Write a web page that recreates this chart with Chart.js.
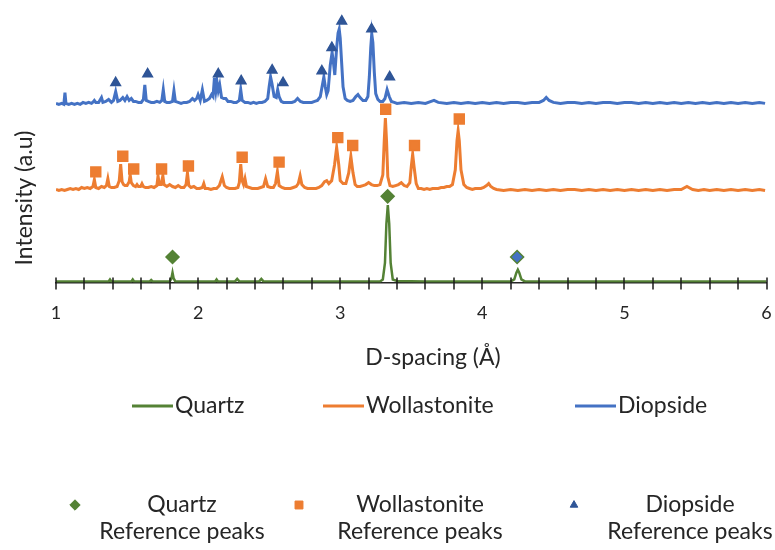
<!DOCTYPE html>
<html>
<head>
<meta charset="utf-8">
<script src="https://cdn.jsdelivr.net/npm/chart.js@4.4.1/dist/chart.umd.min.js"></script>
<style>
  html, body { margin: 0; padding: 0; background: #fff; }
  #wrap { width: 775px; height: 550px; }
</style>
</head>
<body>
<div id="wrap"><canvas id="xrd" width="775" height="550"></canvas></div>
<script>
// XRD patterns, stacked: [d-spacing (Å), intensity (a.u.)]
const quartzScan = [
  [1.00,1],[1.10,1],[1.20,1],[1.37,1],[1.38,3],[1.39,1],[1.53,1],[1.54,3],[1.55,1],[1.66,1],[1.67,2.5],[1.68,1],
  [1.80,1],[1.812,4],[1.82,10],[1.828,4],[1.84,1],[1.98,1],[2.12,1],[2.13,3],[2.14,1],[2.26,1],[2.275,3.5],
  [2.29,1],[2.43,1],[2.445,3.5],[2.46,1],[2.60,1],[3.00,1],[3.28,1],[3.30,3],[3.315,20],[3.325,60],[3.335,79],
  [3.345,60],[3.355,20],[3.37,3],[3.40,1.5],[3.60,1],[4.20,1],[4.225,3],[4.24,10],[4.25,13],[4.26,10],[4.275,3],
  [4.30,1],[5.00,1],[6.00,1]
];

const wollastoniteScan = [
  [1.00,95],[1.02,94],[1.04,95],[1.06,94],[1.08,95],[1.10,96],[1.12,95],[1.14,96],[1.16,95],[1.18,97],[1.20,96],
  [1.22,97],[1.24,96],[1.26,98],[1.27,105],[1.28,97],[1.30,96],[1.32,98],[1.34,97],[1.355,99],[1.365,106],
  [1.375,98],[1.39,97],[1.41,97],[1.43,98],[1.445,104],[1.455,121],[1.465,103],[1.475,100],[1.485,99],[1.50,99],
  [1.515,103],[1.522,110],[1.53,102],[1.545,99],[1.56,98],[1.57,100],[1.58,98],[1.595,98],[1.605,101],[1.615,98],
  [1.63,97],[1.65,97],[1.67,98],[1.69,97],[1.71,99],[1.718,109],[1.727,100],[1.74,100],[1.752,109],[1.76,100],
  [1.78,98],[1.80,100],[1.82,98],[1.84,97],[1.86,99],[1.88,97],[1.90,97],[1.915,100],[1.925,112],[1.935,99],
  [1.95,97],[1.97,98],[1.99,96],[2.01,96],[2.03,97],[2.04,101],[2.05,96],[2.07,96],[2.09,95],[2.11,96],[2.13,96],
  [2.15,99],[2.17,108],[2.185,99],[2.20,97],[2.22,96],[2.24,96],[2.26,96],[2.28,97],[2.29,102],[2.30,121],
  [2.31,104],[2.32,100],[2.33,106],[2.34,98],[2.36,97],[2.38,96],[2.40,96],[2.42,96],[2.44,97],[2.46,98],
  [2.475,106],[2.49,98],[2.51,97],[2.53,97],[2.545,101],[2.558,113],[2.57,99],[2.59,97],[2.61,96],[2.63,96],
  [2.65,96],[2.67,97],[2.69,98],[2.705,101],[2.718,109],[2.73,100],[2.75,97],[2.77,96],[2.79,96],[2.81,96],
  [2.83,96],[2.85,97],[2.87,99],[2.89,103],[2.905,104],[2.92,101],[2.94,104],[2.96,120],[2.975,138],[2.99,120],
  [3.00,104],[3.02,101],[3.04,101],[3.06,112],[3.075,129],[3.09,112],[3.105,100],[3.12,98],[3.14,98],[3.16,99],
  [3.18,100],[3.20,102],[3.22,100],[3.24,99],[3.26,99],[3.28,100],[3.30,110],[3.31,145],[3.318,168],[3.326,145],
  [3.335,108],[3.35,99],[3.37,98],[3.39,99],[3.41,100],[3.43,102],[3.45,99],[3.47,98],[3.49,102],[3.50,118],
  [3.51,131],[3.52,118],[3.535,101],[3.55,96],[3.57,96],[3.59,95],[3.61,96],[3.63,95],[3.65,96],[3.67,96],
  [3.69,96],[3.71,97],[3.73,97],[3.75,98],[3.77,98],[3.79,100],[3.81,115],[3.822,145],[3.83,155],[3.838,145],
  [3.85,115],[3.87,100],[3.89,97],[3.91,96],[3.93,95],[3.95,96],[3.97,96],[3.99,96],[4.01,97],[4.03,99],
  [4.045,101],[4.06,98],[4.08,96],[4.10,95],[4.15,94],[4.20,95],[4.25,94],[4.30,95],[4.35,94],[4.40,95],
  [4.45,94],[4.50,95],[4.55,94],[4.60,95],[4.65,95],[4.70,94],[4.75,95],[4.80,94],[4.85,95],[4.90,94],
  [4.95,95],[5.00,94],[5.05,95],[5.10,94],[5.15,95],[5.20,94],[5.25,95],[5.30,94],[5.35,95],[5.40,95],
  [5.44,98],[5.48,95],[5.52,94],[5.56,95],[5.60,94],[5.65,95],[5.70,94],[5.75,95],[5.80,94],[5.85,95],
  [5.90,94],[5.95,95],[5.99,94]
];

const diopsideScan = [
  [1.00,183],[1.02,182],[1.04,183],[1.055,182],[1.063,194],[1.07,183],[1.09,182],[1.11,183],[1.13,182],
  [1.15,183],[1.17,182],[1.19,184],[1.21,183],[1.23,184],[1.25,183],[1.265,185],[1.27,186],[1.28,184],
  [1.30,184],[1.32,189],[1.33,184],[1.35,185],[1.37,187],[1.39,184],[1.405,186],[1.42,195],[1.435,185],
  [1.45,186],[1.47,189],[1.485,186],[1.50,190],[1.515,186],[1.53,188],[1.545,185],[1.56,185],[1.58,184],
  [1.60,184],[1.615,187],[1.625,202],[1.635,186],[1.65,185],[1.67,184],[1.69,184],[1.71,185],[1.73,184],
  [1.745,186],[1.755,197],[1.765,185],[1.78,184],[1.80,184],[1.82,185],[1.83,196],[1.84,185],[1.86,184],
  [1.88,183],[1.90,184],[1.92,184],[1.94,185],[1.96,188],[1.975,186],[1.99,188],[2.00,192],[2.015,186],
  [2.03,197],[2.045,185],[2.06,186],[2.08,188],[2.095,192],[2.105,190],[2.115,209],[2.125,196],[2.133,205],
  [2.142,196],[2.152,202],[2.165,189],[2.18,188],[2.195,188],[2.21,185],[2.23,185],[2.25,184],[2.27,184],
  [2.29,186],[2.30,197],[2.31,186],[2.33,184],[2.35,184],[2.37,183],[2.39,184],[2.41,183],[2.43,184],
  [2.45,184],[2.47,185],[2.49,188],[2.50,200],[2.51,210],[2.52,203],[2.535,190],[2.55,189],[2.56,197],
  [2.57,190],[2.585,185],[2.60,184],[2.62,184],[2.64,184],[2.66,184],[2.68,185],[2.70,188],[2.72,185],
  [2.74,184],[2.76,184],[2.78,184],[2.80,184],[2.82,185],[2.84,186],[2.86,190],[2.875,202],[2.885,210],
  [2.895,200],[2.905,192],[2.915,196],[2.93,222],[2.943,235],[2.953,224],[2.962,212],[2.975,240],[2.985,255],
  [2.993,259],[3.00,250],[3.01,225],[3.02,200],[3.035,188],[3.05,186],[3.07,185],[3.09,186],[3.11,190],
  [3.125,192],[3.14,189],[3.16,186],[3.18,186],[3.195,190],[3.205,210],[3.215,240],[3.222,254],[3.23,245],
  [3.24,215],[3.25,193],[3.265,187],[3.28,185],[3.30,185],[3.315,188],[3.33,197],[3.345,190],[3.36,185],
  [3.38,184],[3.40,183],[3.45,184],[3.50,183],[3.55,184],[3.60,183],[3.64,185],[3.66,186],[3.69,184],
  [3.75,183],[3.80,184],[3.85,183],[3.90,184],[3.95,183],[4.00,184],[4.05,183],[4.10,184],[4.15,183],
  [4.20,184],[4.25,184],[4.30,183],[4.35,184],[4.40,184],[4.43,186],[4.45,189],[4.47,186],[4.50,184],
  [4.55,183],[4.60,184],[4.65,184],[4.70,183],[4.75,184],[4.80,183],[4.85,184],[4.90,184],[4.95,183],
  [5.00,184],[5.05,184],[5.10,183],[5.15,184],[5.20,183],[5.25,184],[5.30,183],[5.35,184],[5.40,183],
  [5.45,184],[5.50,183],[5.55,184],[5.60,183],[5.65,184],[5.70,183],[5.75,184],[5.80,183],[5.85,184],
  [5.90,183],[5.95,184],[5.99,183]
];

// reference peak markers (d-spacing, plotted height)
const quartzRefD = [1.82, 3.334, 4.245];
const quartzRefI = [26, 88, 26];
const wollastoniteRefD = [1.28, 1.47, 1.547, 1.743, 1.932, 2.31, 2.57, 2.983, 3.088, 3.32, 3.523, 3.838];
const wollastoniteRefI = [113, 129, 116, 116, 119, 128, 123, 148, 140, 177, 140, 167];
const diopsideRefD = [1.42, 1.645, 2.142, 2.303, 2.521, 2.598, 2.871, 2.941, 3.011, 3.221, 3.348];
const diopsideRefI = [204, 213, 213, 206, 217, 204, 216, 240, 267, 259, 210];

const lineLegend = ['Quartz', 'Wollastonite', 'Diopside'];
const peakLegend = ['Quartz', 'Wollastonite', 'Diopside'];
const peakLegendSub = 'Reference peaks';
const xTitle = 'D-spacing (Å)';
const yTitle = 'Intensity (a.u)';

const GREEN = '#548235', ORANGE = '#ED7D31', BLUE = '#4472C4', NAVY = '#2F5597';
const FONT = 'Lato, "Liberation Sans", sans-serif';
const TEXT = '#262626';

const toXY = rows => rows.map(([x, y]) => ({ x, y }));
const zipXY = (xs, ys) => xs.map((x, i) => ({ x, y: ys[i] }));

const lineColors = [GREEN, ORANGE, BLUE];
const markerStyles = [
  { pointStyle: 'rectRot', radius: 6.5, fill: GREEN, stroke: GREEN },
  { pointStyle: 'rect', radius: 7, fill: ORANGE, stroke: ORANGE },
  { pointStyle: 'triangle', radius: 5.5, fill: NAVY, stroke: NAVY },
];

// tick marks crossing the axis, axis titles and the two legend rows
const decor = {
  id: 'decor',
  afterDatasetsDraw(chart) {
    const { ctx, chartArea, scales: { x } } = chart;
    ctx.save();
    ctx.strokeStyle = '#1a1a1a';
    ctx.lineWidth = 1.5;
    x.ticks.forEach(t => {
      const px = Math.round(x.getPixelForValue(t.value));
      ctx.beginPath();
      ctx.moveTo(px, chartArea.bottom - 5);
      ctx.lineTo(px, chartArea.bottom + 7);
      ctx.stroke();
    });
    ctx.restore();
  },
  afterDraw(chart) {
    const { ctx } = chart;
    ctx.save();
    ctx.fillStyle = TEXT;
    ctx.font = `23px ${FONT}`;
    ctx.textBaseline = 'middle';
    ctx.textAlign = 'center';
    ctx.fillText(xTitle, 433, 358);

    ctx.save();
    ctx.translate(25, 198);
    ctx.rotate(-Math.PI / 2);
    ctx.fillText(yTitle, 0, 0);
    ctx.restore();

    // series legend
    const lineX = [132, 323, 575];
    ctx.textAlign = 'left';
    lineLegend.forEach((lbl, i) => {
      ctx.strokeStyle = lineColors[i];
      ctx.lineWidth = 3;
      ctx.beginPath();
      ctx.moveTo(lineX[i], 406);
      ctx.lineTo(lineX[i] + 41, 406);
      ctx.stroke();
      ctx.fillText(lbl, lineX[i] + 43, 406);
    });

    // reference peak legend
    const markX = [75, 299, 574];
    const textX = [182, 420, 690];
    ctx.textAlign = 'center';
    peakLegend.forEach((lbl, i) => {
      const m = markerStyles[i];
      ctx.fillStyle = m.fill;
      ctx.strokeStyle = m.stroke;
      ctx.lineWidth = 1;
      Chart.helpers.drawPoint(ctx, { pointStyle: m.pointStyle, radius: m.radius * 0.8, rotation: 0, borderWidth: 1 }, markX[i], 505);
      ctx.fillStyle = TEXT;
      ctx.fillText(lbl, textX[i], 505);
      ctx.fillText(peakLegendSub, textX[i], 532);
    });
    ctx.restore();
  }
};

const scanDs = (data, color, width) => ({
  type: 'line', data: toXY(data), borderColor: color, borderWidth: width,
  pointRadius: 0, fill: false, tension: 0, order: 2,
});
const refDs = (xs, ys, m, fills) => ({
  type: 'scatter', data: zipXY(xs, ys), showLine: false, order: 1,
  pointStyle: m.pointStyle, pointRadius: m.radius,
  backgroundColor: fills || m.fill, borderColor: m.stroke, borderWidth: 1.5,
});

new Chart(document.getElementById('xrd'), {
  data: {
    datasets: [
      scanDs(quartzScan, GREEN, 2.5),
      scanDs(wollastoniteScan, ORANGE, 3),
      scanDs(diopsideScan, BLUE, 3),
      refDs(quartzRefD, quartzRefI, markerStyles[0], [GREEN, GREEN, BLUE]),
      refDs(wollastoniteRefD, wollastoniteRefI, markerStyles[1]),
      refDs(diopsideRefD, diopsideRefI, markerStyles[2]),
    ],
  },
  options: {
    responsive: false,
    devicePixelRatio: 1,
    animation: false,
    layout: { padding: { left: 56, right: 6, top: 2, bottom: 226 } },
    plugins: { legend: { display: false }, tooltip: { enabled: false } },
    scales: {
      x: {
        type: 'linear', min: 1, max: 6,
        // tick marks themselves come from the decor plugin; the transparent
        // grid ticks only reserve the gap above the labels
        grid: { drawOnChartArea: false, color: 'transparent', tickLength: 20 },
        border: { display: true, color: '#262626', width: 1.5 },
        ticks: {
          stepSize: 0.2, autoSkip: false, maxRotation: 0, padding: 0,
          color: TEXT, font: { family: FONT, size: 18 },
          callback: v => Math.abs(v - Math.round(v)) < 1e-6 ? String(Math.round(v)) : '',
        },
      },
      y: { display: false, min: 0, max: 280 },
    },
  },
  plugins: [decor],
});
</script>
</body>
</html>
